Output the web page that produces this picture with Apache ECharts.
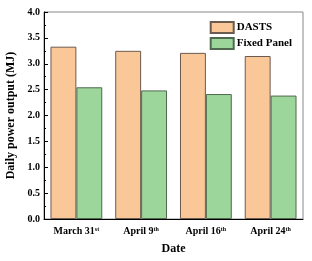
<!DOCTYPE html>
<html><head><meta charset="utf-8">
<script src="https://cdn.jsdelivr.net/npm/echarts@6/dist/echarts.min.js"></script>
<style>html,body{margin:0;padding:0;background:#fff}#c{width:312px;height:261px}</style>
</head><body><div id="c"></div>
<script>
const categories = ['March 31', 'April 9', 'April 16', 'April 24'];
const suffixes = ['st', 'th', 'th', 'th'];
const dasts = [3.33, 3.25, 3.21, 3.15];
const fixedPanel = [2.545, 2.485, 2.415, 2.385];
const yTicks = [0, 0.5, 1.0, 1.5, 2.0, 2.5, 3.0, 3.5, 4.0];

const font = '"Liberation Serif", "Times New Roman", serif';
const chart = echarts.init(document.getElementById('c'), null, {renderer: 'canvas'});
chart.setOption({
  animation: false,
  textStyle: {fontFamily: font},
  grid: {left: 44, right: 9, top: 12, bottom: 42, show: true, borderColor: '#888', borderWidth: 1,
         containLabel: false, outerBoundsMode: 'none'},
  legend: {
    right: 15, top: 16, orient: 'vertical', itemWidth: 23, itemHeight: 11, itemGap: 3,
    icon: 'rect',
    textStyle: {fontFamily: font, fontWeight: 'bold', fontSize: 11, color: '#000', padding: [0,0,0,-2]},
    data: ['DASTS', 'Fixed Panel']
  },
  xAxis: {
    type: 'category', data: categories,
    name: 'Date', nameLocation: 'middle', nameGap: 24,
    nameTextStyle: {fontFamily: font, fontWeight: 'bold', fontSize: 12, color: '#000'},
    axisLine: {lineStyle: {color: '#000', width: 1}},
    axisTick: {inside: true, length: 4, lineStyle: {color: '#000'}},
    axisLabel: {
      interval: 0, margin: 7, color: '#000',
      formatter: (v, i) => '{a|' + v + '}{s|' + suffixes[i] + '}',
      rich: {
        a: {fontFamily: font, fontWeight: 'bold', fontSize: 10, color: '#000'},
        s: {fontFamily: font, fontWeight: 'bold', fontSize: 6, color: '#000', verticalAlign: 'top', padding: [0,0,5,0]}
      }
    }
  },
  yAxis: {
    type: 'value', min: 0, max: 4, interval: 0.5,
    name: 'Daily power output (MJ)', nameLocation: 'middle', nameGap: 21,
    nameTextStyle: {fontFamily: font, fontWeight: 'bold', fontSize: 12, color: '#000'},
    axisLine: {show: true, lineStyle: {color: '#000', width: 1}},
    axisTick: {show: true, inside: true, length: 4, lineStyle: {color: '#000'}},
    minorTick: {show: true, splitNumber: 2, length: 2, lineStyle: {color: '#000'}},
    splitLine: {show: false},
    axisLabel: {
      margin: 4, color: '#000', fontFamily: font, fontWeight: 'bold', fontSize: 10,
      formatter: v => v.toFixed(1)
    }
  },
  series: [
    {name: 'DASTS', type: 'bar', data: dasts, barGap: '0%', barCategoryGap: '20%',
     itemStyle: {color: '#FAC898', borderColor: '#6b5a4e', borderWidth: 1}},
    {name: 'Fixed Panel', type: 'bar', data: fixedPanel,
     itemStyle: {color: '#9DD69A', borderColor: '#4f6a4f', borderWidth: 1}}
  ]
});
</script></body></html>
